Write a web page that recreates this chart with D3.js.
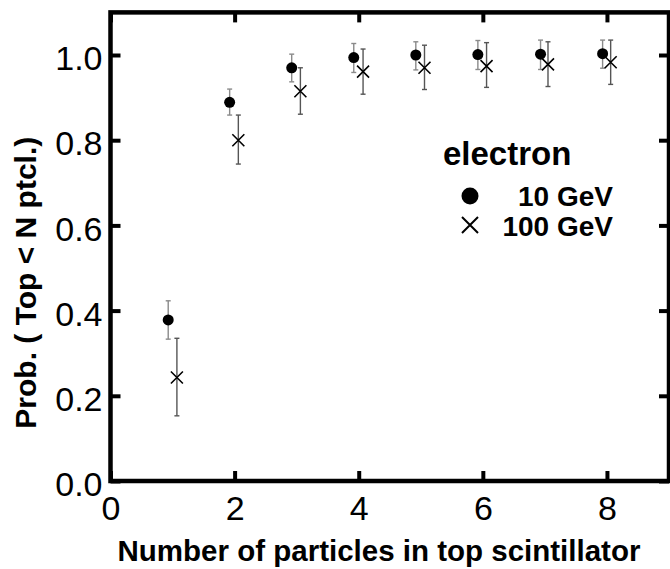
<!DOCTYPE html>
<html>
<head>
<meta charset="utf-8">
<script src="https://cdn.jsdelivr.net/npm/d3@7"></script>
<style>
  html, body { margin: 0; padding: 0; background: #fff; }
  svg { display: block; }
  text { font-family: "Liberation Sans", Arial, Helvetica, sans-serif; }
</style>
</head>
<body>
<svg id="chart" width="670" height="569"></svg>
<script>
// ---- data ----
const xTicks = [0, 2, 4, 6, 8];
const yTicks = [0.0, 0.2, 0.4, 0.6, 0.8, 1.0];

// 10 GeV (filled circles)
const x10  = [0.93, 1.92, 2.92, 3.92, 4.92, 5.92, 6.93, 7.93];
const p10  = [0.378, 0.889, 0.970, 0.994, 1.000, 1.001, 1.002, 1.003];
const lo10 = [0.333, 0.859, 0.937, 0.959, 0.965, 0.966, 0.966, 0.969];
const hi10 = [0.423, 0.920, 1.002, 1.027, 1.031, 1.034, 1.035, 1.035];

// 100 GeV (crosses)
const x100  = [1.07, 2.06, 3.06, 4.07, 5.06, 6.06, 7.05, 8.06];
const p100  = [0.243, 0.800, 0.915, 0.961, 0.970, 0.974, 0.978, 0.983];
const lo100 = [0.153, 0.744, 0.861, 0.908, 0.919, 0.924, 0.926, 0.931];
const hi100 = [0.335, 0.859, 0.970, 1.014, 1.023, 1.029, 1.031, 1.035];

const legendTitle = "electron";
const legendLabels = ["10 GeV", "100 GeV"];
const xTitle = "Number of particles in top scintillator";
const yTitle = "Prob. ( Top < N ptcl.)";

// ---- layout ----
const svg = d3.select("#chart");
const L = 110.5, R = 669, T = 12.4, B = 481;
const x = d3.scaleLinear().domain([0, 9]).range([L, R]);
const y = d3.scaleLinear().domain([0, 1.1]).range([B, T]);

const tickLen = 10;
const fmt = d3.format(".1f");

// axes (ticks inward on all sides)
const gB = svg.append("g").attr("transform", `translate(0,${B})`)
  .call(d3.axisBottom(x).tickValues(xTicks).tickSize(-tickLen).tickPadding(15).tickFormat(d3.format("d")));
const gT = svg.append("g").attr("transform", `translate(0,${T})`)
  .call(d3.axisTop(x).tickValues(xTicks).tickSize(-tickLen).tickFormat(""));
const gL = svg.append("g").attr("transform", `translate(${L},0)`)
  .call(d3.axisLeft(y).tickValues(yTicks).tickSize(-tickLen).tickPadding(8).tickFormat(fmt));
const gR = svg.append("g").attr("transform", `translate(${R},0)`)
  .call(d3.axisRight(y).tickValues(yTicks).tickSize(-tickLen).tickFormat(""));

[gB, gT, gL, gR].forEach(g => {
  g.select(".domain").remove();
  g.selectAll(".tick line").attr("stroke", "#000").attr("stroke-width", 4);
});
gB.selectAll(".tick text").attr("fill", "#000").attr("font-size", 34).attr("font-family", "Liberation Sans, Arial, sans-serif");
gL.selectAll(".tick text").attr("fill", "#000").attr("font-size", 34).attr("dy", "0.43em").attr("font-family", "Liberation Sans, Arial, sans-serif");

// frame
svg.append("rect")
  .attr("x", L).attr("y", T).attr("width", R - L).attr("height", B - T)
  .attr("fill", "none").attr("stroke", "#000").attr("stroke-width", 4.5);

// axis titles
svg.append("text")
  .attr("x", 379).attr("y", 561)
  .attr("text-anchor", "middle").attr("font-size", 29.5).attr("font-weight", "bold")
  .text(xTitle);
svg.append("text")
  .attr("transform", `translate(36,${(T + B) / 2 + 36}) rotate(-90)`)
  .attr("text-anchor", "middle").attr("font-size", 30).attr("font-weight", "bold")
  .text(yTitle);

// error bars
function errorBars(xs, lo, hi, color) {
  const g = svg.append("g").attr("stroke", color).attr("stroke-width", 1.4).attr("fill", "none");
  xs.forEach((xv, i) => {
    const cx = x(xv), y1 = y(lo[i]), y2 = y(hi[i]);
    g.append("line").attr("x1", cx).attr("x2", cx).attr("y1", y1).attr("y2", y2);
    g.append("line").attr("x1", cx - 2.5).attr("x2", cx + 2.5).attr("y1", y1).attr("y2", y1);
    g.append("line").attr("x1", cx - 2.5).attr("x2", cx + 2.5).attr("y1", y2).attr("y2", y2);
  });
}
errorBars(x10, lo10, hi10, "#8a8a8a");
errorBars(x100, lo100, hi100, "#555");

// 10 GeV dots
svg.append("g").selectAll("circle").data(x10).join("circle")
  .attr("cx", d => x(d)).attr("cy", (d, i) => y(p10[i])).attr("r", 5.5).attr("fill", "#000");

// 100 GeV crosses
const cross = (cx, cy, s) => `M${cx - s},${cy - s}L${cx + s},${cy + s}M${cx - s},${cy + s}L${cx + s},${cy - s}`;
svg.append("g").selectAll("path").data(x100).join("path")
  .attr("d", (d, i) => cross(x(d), y(p100[i]), 6))
  .attr("stroke", "#000").attr("stroke-width", 1.6).attr("fill", "none");

// legend
svg.append("text").attr("x", 443).attr("y", 165)
  .attr("font-size", 33).attr("font-weight", "bold").text(legendTitle);
svg.append("circle").attr("cx", 470).attr("cy", 196).attr("r", 8.5).attr("fill", "#000");
svg.append("path").attr("d", cross(470, 225, 8)).attr("stroke", "#000").attr("stroke-width", 2).attr("fill", "none");
svg.append("text").attr("x", 613).attr("y", 206).attr("text-anchor", "end")
  .attr("font-size", 28).attr("font-weight", "bold").text(legendLabels[0]);
svg.append("text").attr("x", 613).attr("y", 236).attr("text-anchor", "end")
  .attr("font-size", 28).attr("font-weight", "bold").text(legendLabels[1]);
</script>
</body>
</html>
